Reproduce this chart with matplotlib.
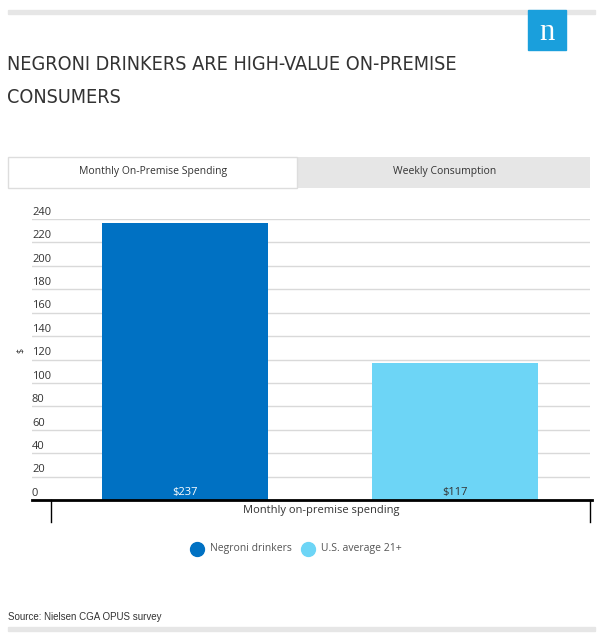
import numpy as np
from matplotlib import pyplot as plt
from matplotlib.patches import Rectangle
from matplotlib.lines import Line2D
from matplotlib.transforms import blended_transform_factory

W, H = 603, 636

title_lines = ["NEGRONI DRINKERS ARE HIGH-VALUE ON-PREMISE", "CONSUMERS"]
tabs = ["Monthly On-Premise Spending", "Weekly Consumption"]
series = ["Negroni drinkers", "U.S. average 21+"]
values = [237, 117]
value_labels = ["$237", "$117"]
colors = ["#0071c3", "#6dd5f6"]
label_colors = ["white", "#333333"]
category = "Monthly on-premise spending"
yticks = list(range(0, 241, 20))
source = "Source: Nielsen CGA OPUS survey"


def fx(px):
    return px / W


def fy(py):
    return 1 - py / H


fig = plt.figure(figsize=(W / 100, H / 100), dpi=100)

# top grey rule and nielsen logo
fig.patches.append(Rectangle((fx(8), fy(14)), fx(587), 4 / H, color="#e6e6e6",
                             transform=fig.transFigure))
fig.patches.append(Rectangle((fx(528), fy(50)), fx(38), 40 / H, color="#1a9fdc",
                             transform=fig.transFigure))
fig.text(fx(547), fy(33), "n", color="white", fontsize=22, family="Liberation Serif",
         ha="center", va="center")

# title, sized so the first line spans about 452 px like the reference
title_texts = []
for i, line in enumerate(title_lines):
    t = fig.text(fx(7), fy(70 + 33 * i), line, fontsize=19, family="DejaVu Sans",
                 fontstretch="condensed", color="#333333", ha="left", va="baseline")
    title_texts.append(t)
renderer = fig.canvas.get_renderer()
w0 = title_texts[0].get_window_extent(renderer).width
size = 19 * 452 / w0
for t in title_texts:
    t.set_fontsize(size)

# tabs
fig.patches.append(Rectangle((fx(297), fy(188)), fx(293), 31 / H, facecolor="#e6e6e6",
                             edgecolor="none", transform=fig.transFigure))
fig.patches.append(Rectangle((fx(8), fy(188)), fx(289), 31 / H, facecolor="white",
                             edgecolor="#dddddd", linewidth=1, transform=fig.transFigure))
fig.text(fx(153), fy(172), tabs[0], fontsize=7.5, family="Open Sans", color="#333333",
         ha="center", va="center")
fig.text(fx(445), fy(172), tabs[1], fontsize=7.5, family="Open Sans", color="#333333",
         ha="center", va="center")

# chart
ax = fig.add_axes([fx(32), fy(500), fx(558), (500 - 219) / H])
x = np.arange(len(values))
ax.bar(x, values, width=0.615, color=colors, zorder=2)
ax.set_xlim(-0.567, 1.5)
ax.set_ylim(0, 240)
for s in ax.spines.values():
    s.set_visible(False)
ax.set_xticks([])
ax.set_yticks(yticks)
ax.set_yticklabels([])
ax.tick_params(axis="y", length=0)
ax.grid(axis="y", color="#d9d9d9", linewidth=1, zorder=0)

tr = blended_transform_factory(ax.transAxes, ax.transData)
for t in yticks:
    ax.text(0, t + 1, str(t), transform=tr, fontsize=8, family="Open Sans",
            color="#333333", ha="left", va="bottom")

for xi, lab, c in zip(x, value_labels, label_colors):
    ax.text(xi, 1.5, lab, fontsize=8, family="Open Sans", color=c, ha="center",
            va="bottom", zorder=3)

fig.text(fx(20), fy(350), "$", fontsize=6.5, family="Open Sans", color="#333333",
         rotation=90, ha="center", va="center")

# x axis line and category ticks
fig.lines.append(Line2D([fx(32), fx(592)], [fy(500), fy(500)], color="black", linewidth=2,
                        transform=fig.transFigure))
for px in [51, 590]:
    fig.lines.append(Line2D([fx(px), fx(px)], [fy(500), fy(522)], color="black",
                            linewidth=1, transform=fig.transFigure))
fig.text(fx(321), fy(511), category, fontsize=8, family="Open Sans", color="#333333",
         ha="center", va="center")

# legend
legend_x = [197, 308]
for px, name, c in zip(legend_x, series, colors):
    fig.lines.append(Line2D([fx(px)], [fy(549)], marker="o", markersize=10, color=c,
                            linestyle="none", transform=fig.transFigure))
    fig.text(fx(px + 13), fy(549), name, fontsize=7.5, family="Open Sans",
             color="#555555", ha="left", va="center")

# source and bottom rule
fig.text(fx(8), fy(617), source, fontsize=7, family="Liberation Sans",
         color="#333333", ha="left", va="center")
fig.patches.append(Rectangle((fx(8), fy(631)), fx(587), 4 / H, color="#e6e6e6",
                             transform=fig.transFigure))

fig.savefig("out.png", dpi=100)
